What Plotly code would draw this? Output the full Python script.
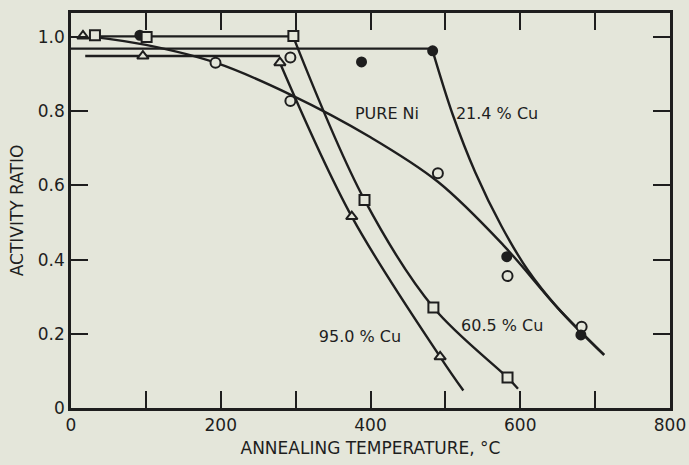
import plotly.graph_objects as go

ni_x = [193, 293, 293, 490, 583, 682]
ni_y = [0.931, 0.945, 0.828, 0.633, 0.356, 0.219]

cu21_x = [92, 388, 483, 582, 681]
cu21_y = [1.005, 0.933, 0.963, 0.408, 0.197]

cu60_x = [32, 101, 297, 392, 484, 583]
cu60_y = [1.005, 1.0, 1.003, 0.561, 0.271, 0.082]

cu95_x = [16, 96, 279, 375, 493]
cu95_y = [1.003, 0.949, 0.931, 0.516, 0.138]

# ---- hand-drawn fitted curves ----
ni_curve_x = [32, 100, 193, 293, 400, 490, 577, 650, 712]
ni_curve_y = [1.0, 0.979, 0.931, 0.845, 0.73, 0.61, 0.44, 0.27, 0.143]

cu21_flat_x = [0, 483]
cu21_flat_y = [0.969, 0.969]
cu21_drop_x = [483, 510, 540, 575, 610, 650, 712]
cu21_drop_y = [0.963, 0.79, 0.635, 0.49, 0.372, 0.27, 0.143]

cu60_flat_x = [32, 297]
cu60_flat_y = [1.002, 1.002]
cu60_drop_x = [297, 392, 484, 583, 597]
cu60_drop_y = [1.0, 0.561, 0.271, 0.082, 0.052]

cu95_flat_x = [19, 279]
cu95_flat_y = [0.949, 0.949]
cu95_drop_x = [279, 375, 493, 524]
cu95_drop_y = [0.931, 0.516, 0.138, 0.047]

x_ticks = [0, 100, 200, 300, 400, 500, 600, 700, 800]
x_labels = ["0", "", "200", "", "400", "", "600", "", "800"]
y_ticks = [0, 0.2, 0.4, 0.6, 0.8, 1.0]
y_labels = ["0", "0.2", "0.4", "0.6", "0.8", "1.0"]

labels = ["PURE Ni", "21.4 % Cu", "60.5 % Cu", "95.0 % Cu"]
label_x = [422, 569, 576, 386]
label_y = [0.79, 0.79, 0.219, 0.189]

BG = "#e4e6da"
INK = "#1e1e1e"
FONT = "DejaVu Sans"

fig = go.Figure()


def line(x, y, spline=True):
    fig.add_trace(go.Scatter(
        x=x, y=y, mode="lines",
        line=dict(color=INK, width=2.4,
                  shape="spline" if spline else "linear", smoothing=1),
        hoverinfo="skip", showlegend=False,
    ))


line(ni_curve_x, ni_curve_y)
line(cu21_flat_x, cu21_flat_y, spline=False)
line(cu21_drop_x, cu21_drop_y)
line(cu60_flat_x, cu60_flat_y, spline=False)
line(cu60_drop_x, cu60_drop_y)
line(cu95_flat_x, cu95_flat_y, spline=False)
line(cu95_drop_x, cu95_drop_y)


def points(x, y, symbol, fill, size):
    fig.add_trace(go.Scatter(
        x=x, y=y, mode="markers",
        marker=dict(symbol=symbol, size=size, color=fill,
                    line=dict(color=INK, width=2)),
        showlegend=False,
    ))


points(ni_x, ni_y, "circle", BG, 10)
points(cu21_x, cu21_y, "circle", INK, 9)
points(cu60_x, cu60_y, "square", BG, 10)
points(cu95_x, cu95_y, "triangle-up", BG, 10)

fig.add_trace(go.Scatter(
    x=label_x, y=label_y, mode="text", text=labels,
    textfont=dict(family=FONT, size=16, color=INK),
    hoverinfo="skip", showlegend=False,
))

axis_common = dict(
    showgrid=False, zeroline=False, automargin=False,
    showline=True, linecolor=INK, linewidth=2.5, mirror="ticks",
    ticks="inside", ticklen=17, tickwidth=2, tickcolor=INK,
    tickfont=dict(family=FONT, size=17, color=INK),
)

fig.update_xaxes(
    range=[0, 800], tickmode="array", tickvals=x_ticks, ticktext=x_labels,
    title=dict(text="ANNEALING TEMPERATURE, °C", standoff=8,
               font=dict(family=FONT, size=17, color=INK)),
    **axis_common,
)
fig.update_yaxes(
    range=[0, 1.065], tickmode="array", tickvals=y_ticks, ticktext=y_labels,
    title=dict(text="ACTIVITY RATIO", standoff=10,
               font=dict(family=FONT, size=17, color=INK)),
    **axis_common,
)

fig.update_layout(
    width=689, height=465,
    margin=dict(l=71, r=19, t=13, b=57),
    paper_bgcolor=BG, plot_bgcolor=BG,
)

# the page body has a default 8px margin; remove it so the figure sits at 0,0
fig.write_html("out.html",
               config={"displayModeBar": False},
               post_script="document.body.style.margin='0';"
                           "document.body.style.background='%s';" % BG)
